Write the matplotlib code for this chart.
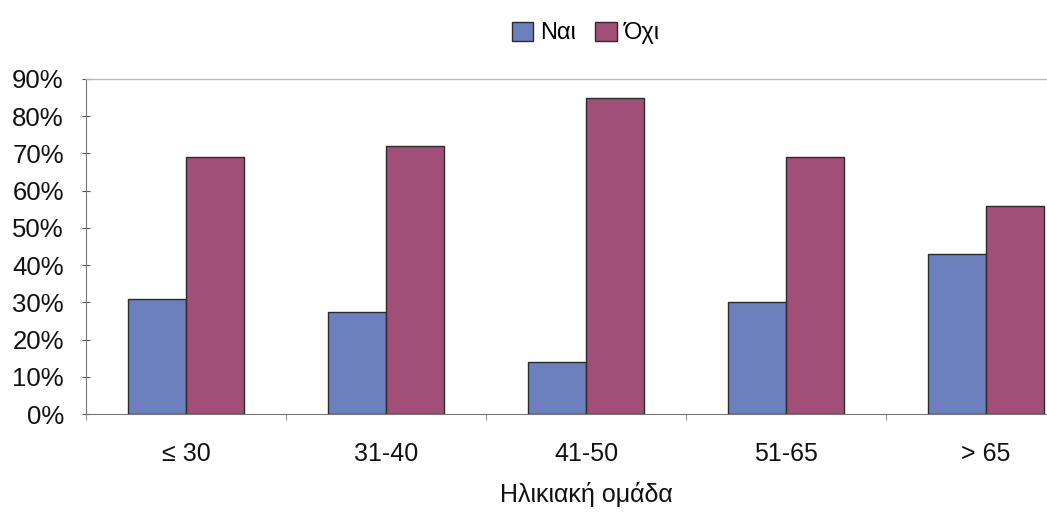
import matplotlib
matplotlib.use("Agg")
import matplotlib.pyplot as plt
import numpy as np
from matplotlib.ticker import FixedLocator, PercentFormatter

plt.rcParams['font.family'] = ['Liberation Sans', 'DejaVu Sans']

categories = ["≤ 30", "31-40", "41-50", "51-65", "> 65"]
yes_vals = [31, 27.5, 14, 30, 43]
no_vals = [69, 72, 85, 69, 56]
series_names = ["Ναι", "Όχι"]
y_ticks = [0, 10, 20, 30, 40, 50, 60, 70, 80, 90]

blue = "#6B80BC"
magenta = "#A24F78"
edge = "#2b2b2b"

fig = plt.figure(figsize=(10.47, 5.12), dpi=100)
ax = fig.add_axes([86 / 1047, 98 / 512, 1000 / 1047, 335 / 512])

x = np.arange(len(categories))
w = 0.29
ax.bar(x - w / 2, yes_vals, w, color=blue, edgecolor=edge, linewidth=1.0, label=series_names[0])
ax.bar(x + w / 2, no_vals, w, color=magenta, edgecolor=edge, linewidth=1.0, label=series_names[1])

ax.set_xlim(-0.5, len(categories) - 0.5)
ax.set_ylim(0, 90)
ax.set_yticks(y_ticks)
ax.yaxis.set_major_formatter(PercentFormatter(decimals=0))
ax.set_xticks(x)
ax.set_xticklabels(categories)
ax.xaxis.set_minor_locator(FixedLocator(np.arange(-0.5, len(categories), 1.0)))

ax.tick_params(axis='y', direction='inout', length=6, width=0.8, color="#555555",
               labelsize=18.5, pad=13, labelcolor="#111111")
ax.tick_params(axis='x', which='major', length=0, labelsize=18, pad=20, labelcolor="#111111")
ax.tick_params(axis='x', which='minor', direction='out', length=4, width=0.8, color="#999999")

for side in ['top', 'right']:
    ax.spines[side].set_color("#bbbbbb")
    ax.spines[side].set_linewidth(1.0)
ax.spines['left'].set_color("#777777")
ax.spines['bottom'].set_color("#777777")

ax.set_xlabel("Ηλικιακή ομάδα", fontsize=18, labelpad=12, color="#111111")

fig.legend(loc='center', bbox_to_anchor=(586 / 1047, 1 - 33 / 512), ncol=2, frameon=False,
           fontsize=17, handlelength=0.9, handleheight=0.9, handletextpad=0.3, columnspacing=0.8)

fig.savefig("out.png", dpi=100)
